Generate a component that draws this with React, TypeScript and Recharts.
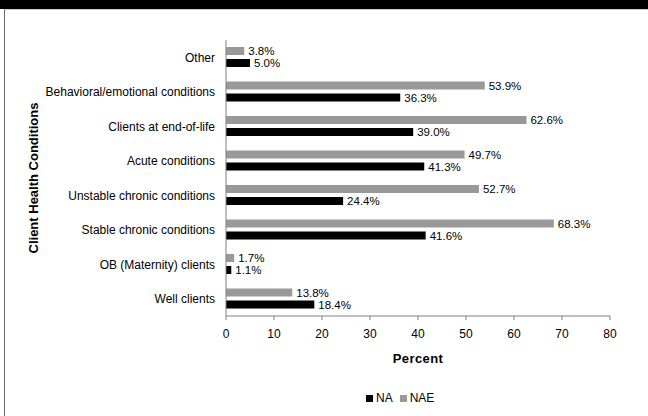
import { Bar, BarChart, LabelList, Legend, XAxis, YAxis } from "recharts";

const categories = [
  "Other",
  "Behavioral/emotional conditions",
  "Clients at end-of-life",
  "Acute conditions",
  "Unstable chronic conditions",
  "Stable chronic conditions",
  "OB (Maternity) clients",
  "Well clients",
];
const naValues = [5.0, 36.3, 39.0, 41.3, 24.4, 41.6, 1.1, 18.4];
const naeValues = [3.8, 53.9, 62.6, 49.7, 52.7, 68.3, 1.7, 13.8];
const xTicks = [0, 10, 20, 30, 40, 50, 60, 70, 80];

const data = categories.map((name, i) => ({ name, NA: naValues[i], NAE: naeValues[i] }));

const FONT = "'Liberation Sans', Arial, sans-serif";
const fmt = (v: number) => `${v.toFixed(1)}%`;
const titleStyle = { fontSize: 13, fontWeight: "bold", fill: "#000", fontFamily: FONT, letterSpacing: 0.4 };

function LegendContent() {
  const items = [
    { label: "NA", color: "#000000" },
    { label: "NAE", color: "#999999" },
  ];
  return (
    <div
      style={{
        display: "flex",
        justifyContent: "flex-start",
        paddingLeft: 366,
        paddingTop: 17,
        gap: 7,
        fontFamily: FONT,
        fontSize: 12,
        lineHeight: "14px",
      }}
    >
      {items.map((it) => (
        <span key={it.label} style={{ display: "inline-flex", alignItems: "center", gap: 3 }}>
          <span style={{ width: 7, height: 7, background: it.color, display: "inline-block" }} />
          {it.label}
        </span>
      ))}
    </div>
  );
}

export default function App() {
  return (
    <div
      style={{
        position: "absolute",
        left: 0,
        top: 0,
        width: 648,
        height: 416,
        background: "#fff",
        overflow: "hidden",
        fontFamily: FONT,
      }}
    >
      <div style={{ position: "absolute", left: 0, top: 0, width: 648, height: 9, background: "#000" }} />
      <div
        style={{
          position: "absolute",
          left: 4,
          top: 9,
          width: 644,
          height: 407,
          borderLeft: "1px solid #666",
          borderTop: "1px solid #ccc",
        }}
      />
      <div style={{ position: "absolute", left: 0, top: 0 }}>
        <BarChart
          width={648}
          height={416}
          data={data}
          layout="vertical"
          margin={{ top: 40, right: 38, bottom: 0, left: 0 }}
          barSize={8}
          barGap={4}
        >
          <XAxis
            type="number"
            domain={[0, 80]}
            ticks={xTicks}
            interval={0}
            tick={{ fill: "#000", fontSize: 12, fontFamily: FONT }}
            tickLine={{ stroke: "#808080" }}
            tickSize={4}
            tickMargin={9}
            axisLine={{ stroke: "#808080" }}
            height={58}
            label={{
              value: "Percent",
              position: "insideTop",
              offset: 38,
              style: titleStyle,
            }}
          />
          <YAxis
            type="category"
            dataKey="name"
            width={226}
            tick={{ fill: "#000", fontSize: 12, fontFamily: FONT }}
            tickLine={false}
            tickMargin={5}
            axisLine={{ stroke: "#808080" }}
            label={{
              value: "Client Health Conditions",
              angle: -90,
              position: "insideLeft",
              offset: 33,
              style: { ...titleStyle, letterSpacing: 0, textAnchor: "middle" },
            }}
          />
          <Legend verticalAlign="bottom" height={42} content={<LegendContent />} />
          <Bar dataKey="NAE" fill="#999999" isAnimationActive={false}>
            <LabelList dataKey="NAE" position="right" offset={4} formatter={fmt} style={{ fontSize: 11.5, fill: "#000", fontFamily: FONT }} />
          </Bar>
          <Bar dataKey="NA" fill="#000000" isAnimationActive={false}>
            <LabelList dataKey="NA" position="right" offset={4} formatter={fmt} style={{ fontSize: 11.5, fill: "#000", fontFamily: FONT }} />
          </Bar>
        </BarChart>
      </div>
    </div>
  );
}
